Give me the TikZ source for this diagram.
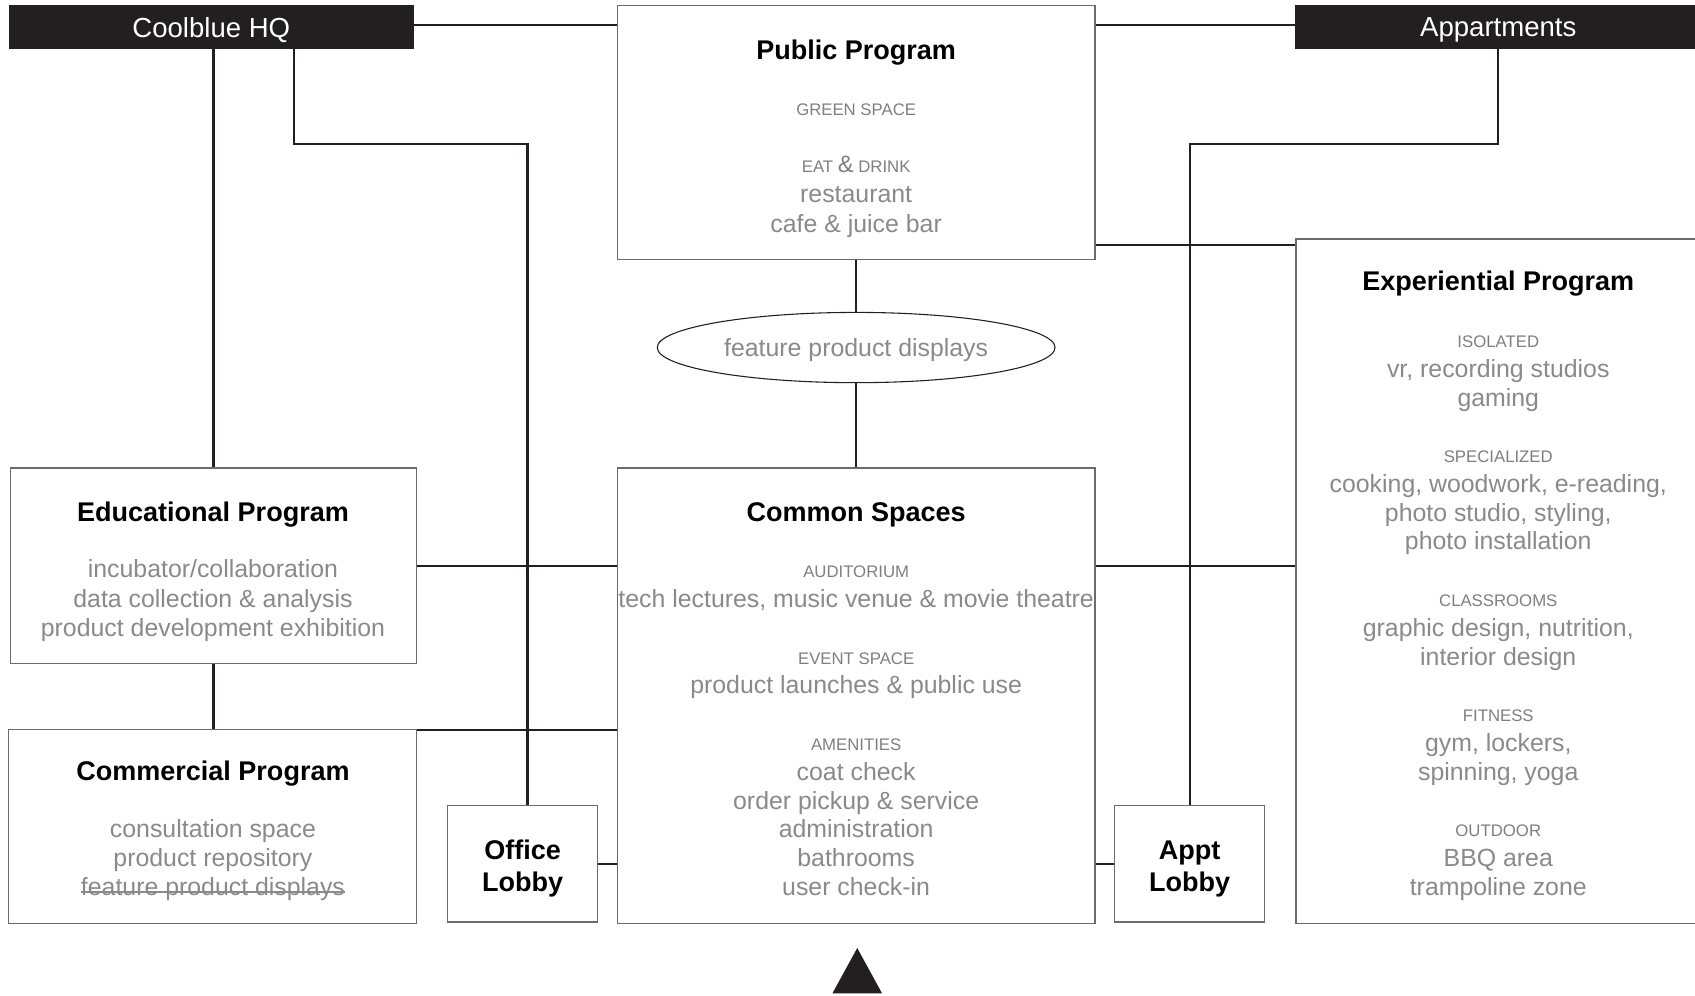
\documentclass[tikz,border=0pt]{standalone}
\usepackage{fontspec}
\setmainfont{Liberation Sans}
\usetikzlibrary{shapes.geometric}

\definecolor{ink}{HTML}{231F20}
\definecolor{frame}{HTML}{6B6B6B}
\definecolor{soft}{HTML}{8A8A8A}
\definecolor{capgray}{HTML}{7F7F7F}

\newcommand{\amp}{{\fontsize{22}{26}\selectfont\&}}

\begin{document}
\begin{tikzpicture}[
  x=1pt, y=-1pt,
  link/.style={draw=ink, line width=2pt},
  box/.style={draw=frame, line width=1.2pt, fill=white, inner sep=0pt, outer sep=0pt},
  banner/.style={fill=ink, text=white, inner sep=0pt, outer sep=0pt, text depth=0pt,
                 font=\fontsize{25.5}{30}\selectfont},
  ttl/.style={anchor=mid, inner sep=0pt, yshift=-7pt, font=\fontsize{25}{30}\selectfont\bfseries},
  txt/.style={anchor=mid, inner sep=0pt, yshift=-6pt, text=soft, font=\fontsize{23}{27}\selectfont},
  lbl/.style={anchor=mid, inner sep=0pt, yshift=-3.5pt, text=capgray, font=\fontsize{15.5}{18}\selectfont},
]
\useasboundingbox (0,0) rectangle (1568,921);

% ---- boxes (placed first so connectors can refer to them) ----
\node[banner, minimum width=375pt, minimum height=41pt] (hq) at (195.5,25) {Coolblue HQ};
\node[banner, minimum width=376pt, minimum height=41pt] (apt) at (1386,25) {Appartments};
\node[box, minimum width=442pt, minimum height=235pt] (pub) at (792,122.5) {};
\node[ellipse, draw=ink, line width=1pt, fill=white, inner sep=0pt,
      minimum width=368pt, minimum height=65pt] (disp) at (792,321.5) {};
\node[box, minimum width=442pt, minimum height=421pt] (common) at (792,643.5) {};
\node[box, minimum width=375pt, minimum height=181pt] (edu) at (197.5,523.5) {};
\node[box, minimum width=377pt, minimum height=179pt] (com) at (196.5,764.5) {};
\node[box, minimum width=139pt, minimum height=108pt] (olob) at (483.5,799) {};
\node[box, minimum width=139pt, minimum height=108pt] (alob) at (1100.5,799) {};
\node[box, minimum width=374pt, minimum height=633pt] (exp) at (1386,537.5) {};

% ---- connectors ----
\coordinate (tapL) at (272,133);
\coordinate (tapR) at (1386,133);
\draw[link] ([yshift=1.5pt]hq.east) -- ([yshift=1.5pt]hq.east -| pub.west);
\draw[link] ([yshift=1.5pt]apt.west -| pub.east) -- ([yshift=1.5pt]apt.west);
\draw[link] (hq.south -| edu.north) -- (edu.north);
\draw[link] (hq.south -| tapL) |- ([xshift=4.5pt]olob.north |- tapL) -- ([xshift=4.5pt]olob.north);
\draw[link] (apt.south) |- (alob.north |- tapR) -- (alob.north);
\draw[link] ([yshift=13pt]pub.south east) -- ([yshift=13pt]pub.south east -| exp.west);
\draw[link] (pub.south) -- (disp.north);
\draw[link] (disp.south) -- (common.north);
\draw[link] (edu.east) -- (edu.east -| common.west);
\draw[link] (edu.east -| common.east) -- (edu.east -| exp.west);
\draw[link] (edu.south) -- (edu.south |- com.north);
\draw[link] (com.north east) -- (com.north east -| common.west);
\draw[link] (olob.east) -- (olob.east -| common.west);
\draw[link] (alob.west -| common.east) -- (alob.west);

% redraw box frames over connector ends
\foreach \b in {pub,common,edu,com,olob,alob,exp}
  \draw[draw=frame, line width=1.2pt] (\b.north west) rectangle (\b.south east);

% ---- texts ----
\node[txt] (disp-1) at (disp.center) {feature product displays};

\foreach \y/\s/\t [count=\i] in {
  45/ttl/Public Program,
  101/lbl/GREEN SPACE,
  153/lbl/EAT \amp{} DRINK,
  179/txt/restaurant,
  206/txt/cafe \& juice bar}
  \node[\s] (pub-\i) at (792,\y) {\t};

\foreach \y/\s/\t [count=\i] in {
  473/ttl/Common Spaces,
  528/lbl/AUDITORIUM,
  553/txt/{tech lectures, music venue \& movie theatre},
  609/lbl/EVENT SPACE,
  633/txt/product launches \& public use,
  688/lbl/AMENITIES,
  713/txt/coat check,
  740/txt/order pickup \& service,
  766/txt/administration,
  793/txt/bathrooms,
  820/txt/user check-in}
  \node[\s] (common-\i) at (792,\y) {\t};

\node[ttl] (edu-1) at (197,473) {Educational Program};
\node[txt] (edu-2) at (197,526) {incubator/collaboration};
\node[txt] (edu-3) at (197,553) {data collection \& analysis};
\node[txt] (edu-4) at (197,580) {product development exhibition};

\node[ttl] (com-1) at (197,712) {Commercial Program};
\node[txt] (com-2) at (197,766) {consultation space};
\node[txt] (com-3) at (197,793) {product repository};
\node[txt] (com-4) at (197,820) {feature product displays};
\draw[soft, line width=1.3pt] ([yshift=1pt]com-4.mid west) -- ([yshift=1pt]com-4.mid east);

\node[ttl] (olob-1) at (483.5,785) {Office};
\node[ttl] (olob-2) at (483.5,815) {Lobby};
\node[ttl] (alob-1) at (1100.5,785) {Appt};
\node[ttl] (alob-2) at (1100.5,815) {Lobby};

\foreach \y/\s/\t [count=\i] in {
  259/ttl/Experiential Program,
  315/lbl/ISOLATED,
  341/txt/{vr, recording studios},
  367/txt/gaming,
  422/lbl/SPECIALIZED,
  447/txt/{cooking, woodwork, e-reading,},
  474/txt/{photo studio, styling,},
  500/txt/photo installation,
  555/lbl/CLASSROOMS,
  580/txt/{graphic design, nutrition,},
  607/txt/interior design,
  661/lbl/FITNESS,
  687/txt/{gym, lockers,},
  713/txt/{spinning, yoga},
  768/lbl/OUTDOOR,
  793/txt/BBQ area,
  820/txt/trampoline zone}
  \node[\s] (exp-\i) at (1386,\y) {\t};

% ---- entrance marker ----
\fill[ink] (793,877) -- (816,919) -- (770,919) -- cycle;
\end{tikzpicture}
\end{document}
